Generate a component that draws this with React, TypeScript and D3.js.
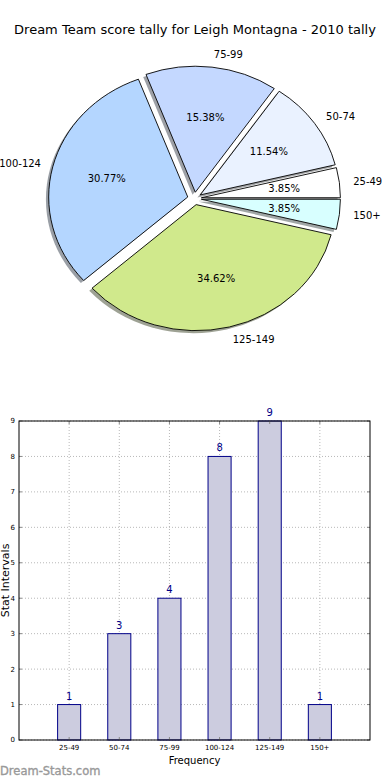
import * as d3 from 'd3'

const categories = ['25-49', '50-74', '75-99', '100-124', '125-149', '150+']
const counts = [1, 3, 4, 8, 9, 1]
const pieColors = ['#ffffff', '#eaf2ff', '#c4d8ff', '#b4d6ff', '#d0e98c', '#d8ffff']
const yTicks = [0, 1, 2, 3, 4, 5, 6, 7, 8, 9]

const W = 390
const H = 780
const FONT = 'DejaVu Sans, sans-serif'

// pie geometry (matplotlib pie drawn without equal aspect -> ellipse)
const cx = 194.5
const cy = 198.5
const rx = 139
const ry = 126
const explode = 0.05

// bar chart frame
const left = 19
const right = 370
const top = 421
const bottom = 740

function Pie() {
  const total = d3.sum(counts)
  const pie = d3.pie<number>().sort(null).startAngle(Math.PI / 2).endAngle(Math.PI / 2 - 2 * Math.PI)
  const arcs = pie(counts)
  const arc = d3.arc<d3.PieArcDatum<number>>().innerRadius(0).outerRadius(1)

  const items = arcs.map((a, i) => {
    const mid = (a.startAngle + a.endAngle) / 2
    const ux = Math.sin(mid)
    const uy = -Math.cos(mid)
    const ox = cx + explode * rx * ux
    const oy = cy + explode * ry * uy
    return { a, i, ux, uy, ox, oy }
  })

  const shade = (c: string) => {
    const col = d3.rgb(c)
    return d3.rgb(col.r * 0.3, col.g * 0.3, col.b * 0.3).toString()
  }

  return (
    <g>
      {items.map(d => (
        <path
          key={'s' + d.i}
          d={arc(d.a) || ''}
          transform={`translate(${d.ox - 0.02 * rx},${d.oy + 0.02 * ry}) scale(${rx},${ry})`}
          fill={shade(pieColors[d.i])}
          opacity={0.5}
        />
      ))}
      {items.map(d => (
        <path
          key={'w' + d.i}
          d={arc(d.a) || ''}
          transform={`translate(${d.ox},${d.oy}) scale(${rx},${ry})`}
          fill={pieColors[d.i]}
          stroke="#000"
          strokeWidth={0.9}
          vectorEffect="non-scaling-stroke"
        />
      ))}
      {items.map(d => (
        <text
          key={'l' + d.i}
          x={Math.max(d.ox + 1.1 * rx * d.ux, 41)}
          y={d.oy + 1.1 * ry * d.uy}
          dy="0.35em"
          textAnchor={d.ux > 0 ? 'start' : 'end'}
          fontSize={10}
          fontFamily={FONT}
          fill="#000"
        >
          {categories[d.i]}
        </text>
      ))}
      {items.map(d => (
        <text
          key={'p' + d.i}
          x={d.ox + 0.6 * rx * d.ux}
          y={d.oy + 0.6 * ry * d.uy}
          dy="0.35em"
          textAnchor="middle"
          fontSize={10}
          fontFamily={FONT}
          fill="#000"
        >
          {((counts[d.i] / total) * 100).toFixed(2) + '%'}
        </text>
      ))}
    </g>
  )
}

function Bars() {
  const x = d3.scaleLinear().domain([-1, categories.length]).range([left, right])
  const y = d3.scaleLinear().domain([0, 9]).range([bottom, top])
  const bw = x(0.46) - x(0)

  return (
    <g>
      {/* grid */}
      {yTicks.map(t => (
        <line key={'gy' + t} x1={left} x2={right} y1={y(t)} y2={y(t)} stroke="#b8b8b8" strokeDasharray="1,2" />
      ))}
      {categories.map((c, i) => (
        <line key={'gx' + c} x1={x(i)} x2={x(i)} y1={top} y2={bottom} stroke="#b8b8b8" strokeDasharray="1,2" />
      ))}
      {/* bars */}
      {counts.map((v, i) => (
        <rect
          key={'b' + i}
          x={x(i) - bw / 2}
          y={y(v)}
          width={bw}
          height={y(0) - y(v)}
          fill="#ccccdf"
          stroke="#000088"
          strokeWidth={1}
        />
      ))}
      {counts.map((v, i) => (
        <text
          key={'v' + i}
          x={x(i)}
          y={y(v) - 5}
          textAnchor="middle"
          fontSize={10}
          fontFamily={FONT}
          fill="#000088"
        >
          {v}
        </text>
      ))}
      {/* ticks */}
      {yTicks.map(t => (
        <g key={'ty' + t}>
          <line x1={left} x2={left + 3} y1={y(t)} y2={y(t)} stroke="#888" />
          <line x1={right - 3} x2={right} y1={y(t)} y2={y(t)} stroke="#888" />
          <text x={left - 4} y={y(t)} dy="0.35em" textAnchor="end" fontSize={7} fontFamily={FONT} fill="#000">
            {t}
          </text>
        </g>
      ))}
      {categories.map((c, i) => (
        <g key={'tx' + c}>
          <line x1={x(i)} x2={x(i)} y1={top} y2={top + 3} stroke="#888" />
          <line x1={x(i)} x2={x(i)} y1={bottom - 3} y2={bottom} stroke="#888" />
          <text x={x(i)} y={bottom + 10} textAnchor="middle" fontSize={7} fontFamily={FONT} fill="#000">
            {c}
          </text>
        </g>
      ))}
      <rect x={left} y={top} width={right - left} height={bottom - top} fill="none" stroke="#000" strokeWidth={1} />
      <text x={(left + right) / 2} y={764} textAnchor="middle" fontSize={10} fontFamily={FONT} fill="#000">
        Frequency
      </text>
      <text
        transform={`translate(9,${(top + bottom) / 2}) rotate(-90)`}
        textAnchor="middle"
        fontSize={11}
        fontFamily={FONT}
        fill="#000"
      >
        Stat Intervals
      </text>
    </g>
  )
}

export default function App() {
  return (
    <svg width={W} height={H} style={{ position: 'absolute', left: 0, top: 0, background: '#fff' }}>
      <rect width={W} height={H} fill="#fff" />
      <text x={195} y={34} textAnchor="middle" fontSize={13} fontFamily={FONT} fill="#000">
        Dream Team score tally for Leigh Montagna - 2010 tally
      </text>
      <Pie />
      <Bars />
      <text
        x={0}
        y={775}
        fontSize={11.5}
        fontFamily={FONT}
        fill="#999999"
        stroke="#999999"
        strokeWidth={0.35}
      >
        Dream-Stats.com
      </text>
    </svg>
  )
}
